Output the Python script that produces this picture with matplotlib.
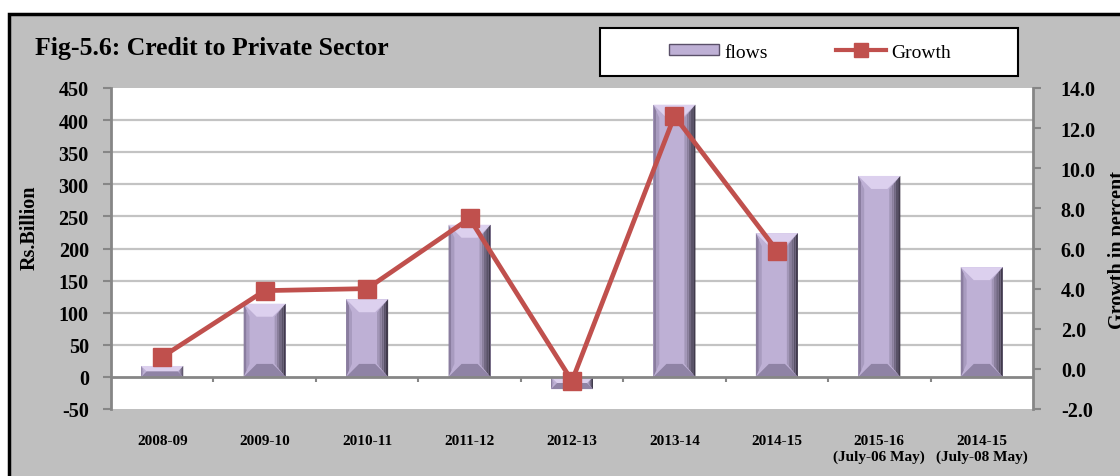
import numpy as np
import matplotlib
matplotlib.use("Agg")
import matplotlib.pyplot as plt
from matplotlib.patches import Rectangle, Polygon
from matplotlib.lines import Line2D
from matplotlib.colors import to_rgb

plt.rcParams['font.family'] = ['Liberation Serif', 'DejaVu Serif']
plt.rcParams['font.weight'] = 'bold'
plt.rcParams['axes.unicode_minus'] = False

# data
categories = ['2008-09', '2009-10', '2010-11', '2011-12', '2012-13', '2013-14',
              '2014-15', '2015-16\n(July-06 May)', '2014-15\n(July-08 May)']
flows = [17, 114, 121, 237, -19, 424, 224, 313, 171]
growth = [0.6, 3.9, 4.0, 7.5, -0.6, 12.6, 5.9, np.nan, np.nan]
left_ticks = list(range(-50, 451, 50))
right_ticks = list(range(-2, 15, 2))

W, H = 1120, 477
fig = plt.figure(figsize=(W / 100, H / 100), dpi=100, facecolor='white')

# grey chart area with black border
fig.patches.append(Rectangle((9 / W, -0.1), 1.2, 1 - 15 / H + 0.1, transform=fig.transFigure,
                             facecolor='#BFBFBF', edgecolor='black', linewidth=2.5, zorder=-5))

ax = fig.add_axes([111 / W, 1 - 410 / H, 922 / W, 321 / H])
ax.set_facecolor('white')
ax.set_xlim(-0.5, len(categories) - 0.5)
ax.set_ylim(-50, 450)

x = np.arange(len(categories))
bw = 0.41
face = '#BEB0D5'
ax.bar(x, flows, width=bw, color=face, edgecolor='none', zorder=3)


def mix(c1, c2, f):
    a, b = np.array(to_rgb(c1)), np.array(to_rgb(c2))
    return tuple(a + (b - a) * f)


# bevel faces on each bar
pos = ax.get_position()
px_x = pos.width * W / (ax.get_xlim()[1] - ax.get_xlim()[0])
px_y = pos.height * H / (ax.get_ylim()[1] - ax.get_ylim()[0])
for xi, v in zip(x, flows):
    x0, x1 = xi - bw / 2, xi + bw / 2
    lo, hi = min(0, v), max(0, v)
    b = min(13, abs(v) * px_y / 2, bw * px_x / 2)
    dx, dy = b / px_x, b / px_y
    ax.add_patch(Polygon([(x0, hi), (x1, hi), (x1 - dx, hi - dy), (x0 + dx, hi - dy)],
                         facecolor='#DCD0EE', edgecolor='none', zorder=4))
    ax.add_patch(Polygon([(x0, lo), (x1, lo), (x1 - dx, lo + dy), (x0 + dx, lo + dy)],
                         facecolor='#8F83A5', edgecolor='none', zorder=4))
    # left edge, two shades
    dl = dx * 0.45
    for j, c in enumerate(['#8A7D9F', '#A89BBF']):
        f0, f1 = j / 2, (j + 1) / 2
        ax.add_patch(Polygon([(x0 + dl * f0, lo + dy * f0), (x0 + dl * f1, lo + dy * f1),
                              (x0 + dl * f1, hi - dy * f1), (x0 + dl * f0, hi - dy * f0)],
                             facecolor=c, edgecolor='none', zorder=4))
    # right edge, shaded toward dark
    dr = dx * 0.85
    n = 5
    for j in range(n):
        f0, f1 = j / n, (j + 1) / n
        c = mix('#35303F', '#AEA1C4', (j + 0.5) / n)
        ax.add_patch(Polygon([(x1 - dr * f0, lo + dy * f0), (x1 - dr * f1, lo + dy * f1),
                              (x1 - dr * f1, hi - dy * f1), (x1 - dr * f0, hi - dy * f0)],
                             facecolor=c, edgecolor='none', zorder=4))

ax.set_yticks(left_ticks)
for t in left_ticks:
    if t not in (-50, 0, 450):
        ax.axhline(t, color='#C3C3C3', linewidth=1.6, zorder=1)
ax.axhline(0, color='#868686', linewidth=2, zorder=5)
ax.vlines(x[:-1] + 0.5, 0, -5 / px_y, color='#868686', linewidth=1.5, zorder=5)

ax.set_xticks(x, categories, fontsize=11, linespacing=1.25)
ax.tick_params(axis='x', length=0, pad=18)
ax.tick_params(axis='y', direction='out', length=6, width=1.5, color='#868686',
               labelsize=14.5, pad=10)
for s in ('top', 'bottom', 'right'):
    ax.spines[s].set_visible(False)
ax.spines['left'].set_color('#868686')
ax.spines['left'].set_linewidth(2)

ax2 = ax.twinx()
ax2.set_ylim(-2, 14)
ax2.set_yticks(right_ticks, [f'{t:.1f}' for t in right_ticks])
line_color = '#C0504D'
ax2.plot(x, growth, color=line_color, linewidth=3.4, marker='s', markersize=13,
         markerfacecolor=line_color, markeredgecolor=line_color, zorder=6)
ax2.tick_params(axis='y', direction='out', length=6, width=1.5, color='#868686',
                labelsize=14.5, pad=14)
for s in ('top', 'bottom', 'left'):
    ax2.spines[s].set_visible(False)
ax2.spines['right'].set_color('#868686')
ax2.spines['right'].set_linewidth(2)

fig.text(30 / W, 1 - 228 / H, 'Rs.Billion', rotation=90, ha='center', va='center', fontsize=14.5)
fig.text(1118 / W, 1 - 250 / H, 'Growth in percent', rotation=90, ha='center', va='center',
         fontsize=14.5)
fig.text(35 / W, 1 - 49 / H, 'Fig-5.6: Credit to Private Sector', ha='left', va='center',
         fontsize=18.5)

# legend box
fig.patches.append(Rectangle((600 / W, 1 - 77 / H), 418 / W, 48 / H, transform=fig.transFigure,
                             facecolor='white', edgecolor='black', linewidth=1.5, zorder=1))
handles = [Rectangle((0, 0), 1, 1, facecolor=face, edgecolor='#5A5069', linewidth=1),
           Line2D([], [], color=line_color, linewidth=3, marker='s', markersize=10,
                  markerfacecolor=line_color, markeredgecolor=line_color)]
fig.legend(handles, ['flows', 'Growth'], loc='center', bbox_to_anchor=(810 / W, 1 - 53 / H),
           ncol=2, frameon=False, handlelength=2.6, handleheight=0.5, handletextpad=0.25,
           columnspacing=3.5, prop={'family': 'Liberation Serif', 'weight': 'normal', 'size': 14})

fig.savefig('out.png', dpi=100, facecolor=fig.get_facecolor())
